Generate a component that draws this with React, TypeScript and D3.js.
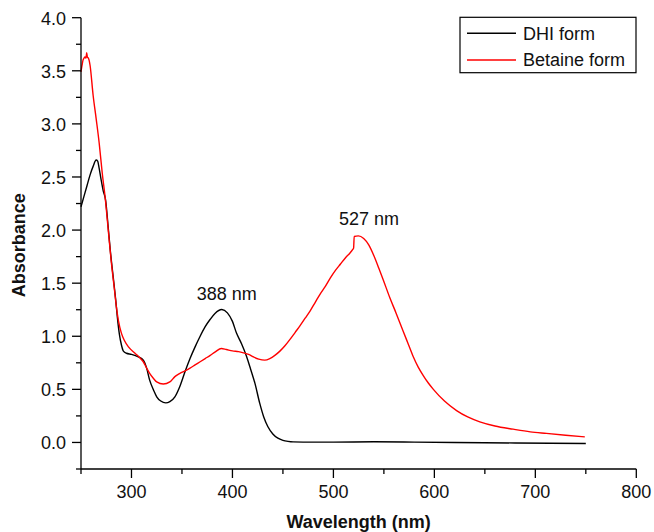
import React from "react";
import * as d3 from "d3";

const dhiWavelength = [250, 253, 256, 259, 262, 265, 266.5, 268, 270, 272, 274.4, 277, 279, 282, 284.4, 286, 288, 290, 292, 295, 300, 306.8, 311.7, 315, 318, 322, 325, 329, 334, 338, 343, 348, 353, 358, 363, 368, 373, 378, 382.7, 389.4, 395, 400, 404, 409, 414, 418, 422.3, 427, 431, 435, 440, 445, 450, 455, 460, 480, 500, 540, 580, 620, 680, 750];
const dhiAbsorbance = [2.22, 2.32, 2.42, 2.52, 2.6, 2.66, 2.65, 2.58, 2.47, 2.37, 2.28, 2.02, 1.81, 1.55, 1.34, 1.18, 1.02, 0.92, 0.86, 0.84, 0.83, 0.806, 0.775, 0.7, 0.587, 0.49, 0.43, 0.39, 0.373, 0.385, 0.43, 0.53, 0.665, 0.79, 0.9, 1.0, 1.09, 1.16, 1.215, 1.252, 1.22, 1.14, 1.03, 0.93, 0.81, 0.69, 0.556, 0.37, 0.24, 0.15, 0.08, 0.04, 0.02, 0.01, 0.005, 0.003, 0.003, 0.006, 0.003, 0.0, -0.005, -0.01];

const betaineWavelength = [250, 251, 252, 253, 254, 255, 255.6, 256.3, 257.2, 258, 259, 262, 265, 268, 271, 274, 277, 280, 283, 285, 287, 290, 293, 297, 303.5, 308, 311.7, 315, 318, 322, 325, 331.5, 338, 343, 348, 353, 358, 363, 368, 373, 378, 383, 389, 394, 400, 406, 411, 416, 421, 426, 432, 437, 442, 447, 452, 457, 462, 467, 472, 477, 482, 487, 492, 497, 502, 507, 512, 516, 519, 520, 520.6, 524.7, 530, 535, 540, 545, 549.4, 556, 562, 569, 574, 579, 584, 589, 594, 599, 610, 622, 633, 645, 660, 678, 695, 711, 730, 749];
const betaineAbsorbance = [3.49, 3.55, 3.6, 3.62, 3.63, 3.62, 3.67, 3.63, 3.62, 3.6, 3.55, 3.27, 3.05, 2.82, 2.54, 2.3, 2.0, 1.7, 1.45, 1.28, 1.15, 1.03, 0.96, 0.9, 0.84, 0.8, 0.76, 0.7, 0.65, 0.6, 0.57, 0.55, 0.57, 0.62, 0.65, 0.674, 0.7, 0.73, 0.76, 0.79, 0.82, 0.853, 0.885, 0.875, 0.862, 0.855, 0.844, 0.83, 0.805, 0.785, 0.775, 0.79, 0.82, 0.86, 0.91, 0.97, 1.035, 1.1, 1.17, 1.24, 1.32, 1.4, 1.47, 1.55, 1.62, 1.68, 1.74, 1.78, 1.815, 1.83, 1.94, 1.945, 1.92, 1.86, 1.76, 1.64, 1.53, 1.36, 1.22, 1.05, 0.93, 0.81, 0.71, 0.63, 0.56, 0.5, 0.39, 0.3, 0.24, 0.194, 0.155, 0.125, 0.1, 0.085, 0.068, 0.053];

const xMajorTicks = [300, 400, 500, 600, 700, 800];
const xMinorTicks = [250, 350, 450, 550, 650, 750];
const yMajorTicks = [0, 0.5, 1, 1.5, 2, 2.5, 3, 3.5, 4];
const yMinorTicks = [-0.25, 0.25, 0.75, 1.25, 1.75, 2.25, 2.75, 3.25, 3.75];

const seriesNames = ["DHI form", "Betaine form"];
const seriesColors = ["#000000", "#ff0000"];
const peakLabels = ["388 nm", "527 nm"];
const peakLabelWavelengths = [394.3, 535.3];
const peakLabelValues = [1.34, 2.05];

const FONT = "'Liberation Sans', Arial, sans-serif";

export default function App() {
  const x = d3.scaleLinear().domain([250, 800]).range([81, 636.3]);
  const y = d3.scaleLinear().domain([-0.25, 4]).range([469, 17.7]);

  const line = d3
    .line<[number, number]>()
    .x((d) => x(d[0]))
    .y((d) => y(d[1]))
    .curve(d3.curveMonotoneX);

  const dhi: [number, number][] = dhiWavelength.map((w, i) => [w, dhiAbsorbance[i]]);
  const bet: [number, number][] = betaineWavelength.map((w, i) => [w, betaineAbsorbance[i]]);
  const series = [dhi, bet];

  const x0 = x(250);
  const y0 = y(-0.25);

  return (
    <svg
      width={654}
      height={532}
      style={{ position: "absolute", left: 0, top: 0, background: "#fff" }}
      fontFamily={FONT}
    >
      <rect x={0} y={0} width={654} height={532} fill="#fff" />
      {series.map((s, i) => (
        <path key={i} d={line(s) || ""} fill="none" stroke={seriesColors[i]} strokeWidth={1.4} strokeLinejoin="round" />
      ))}

      <line x1={x0} x2={x(800)} y1={y0} y2={y0} stroke="#000" strokeWidth={1.3} />
      <line x1={x0} x2={x0} y1={y0} y2={y(4)} stroke="#000" strokeWidth={1.3} />
      {xMajorTicks.map((t) => (
        <g key={"xm" + t}>
          <line x1={x(t)} x2={x(t)} y1={y0} y2={y0 + 9} stroke="#000" strokeWidth={1.3} />
          <text x={x(t)} y={498} textAnchor="middle" fontSize={18} fill="#111">
            {t}
          </text>
        </g>
      ))}
      {xMinorTicks.map((t) => (
        <line key={"xn" + t} x1={x(t)} x2={x(t)} y1={y0} y2={y0 + 5} stroke="#000" strokeWidth={1.3} />
      ))}
      {yMajorTicks.map((t) => (
        <g key={"ym" + t}>
          <line x1={x0 - 9} x2={x0} y1={y(t)} y2={y(t)} stroke="#000" strokeWidth={1.3} />
          <text x={66} y={y(t)} dy="0.38em" textAnchor="end" fontSize={18} fill="#111">
            {t.toFixed(1)}
          </text>
        </g>
      ))}
      {yMinorTicks.map((t) => (
        <line key={"yn" + t} x1={x0 - 5} x2={x0} y1={y(t)} y2={y(t)} stroke="#000" strokeWidth={1.3} />
      ))}

      <text x={(x0 + x(800)) / 2} y={528} textAnchor="middle" fontSize={18} fontWeight="bold" fill="#111">
        Wavelength (nm)
      </text>
      <text
        transform={`translate(25, ${(y(4) + y0) / 2 + 2}) rotate(-90)`}
        textAnchor="middle"
        fontSize={18}
        fontWeight="bold"
        fill="#111"
      >
        Absorbance
      </text>

      {peakLabels.map((p, i) => (
        <text key={p} x={x(peakLabelWavelengths[i])} y={y(peakLabelValues[i])} textAnchor="middle" fontSize={18} fill="#111">
          {p}
        </text>
      ))}

      <rect x={460} y={17.3} width={176} height={55.4} fill="#fff" stroke="#000" strokeWidth={1.2} />
      {seriesNames.map((n, i) => (
        <g key={n}>
          <line x1={467} x2={516} y1={33.3 + i * 26.7} y2={33.3 + i * 26.7} stroke={seriesColors[i]} strokeWidth={1.4} />
          <text x={523} y={33.3 + i * 26.7} dy="0.36em" fontSize={18} fill="#111">
            {n}
          </text>
        </g>
      ))}
    </svg>
  );
}
